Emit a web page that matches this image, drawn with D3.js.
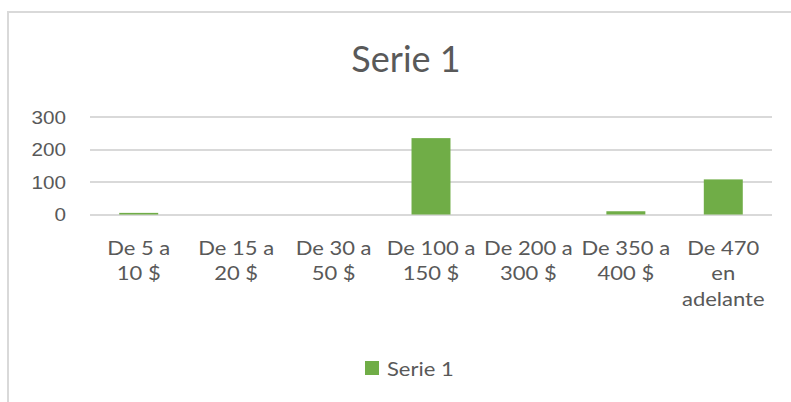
<!DOCTYPE html>
<html>
<head>
<meta charset="utf-8">
<script src="https://d3js.org/d3.v7.min.js"></script>
<style>
  body { margin: 0; background: #fff; }
  text { font-family: Lato, "Open Sans", sans-serif; fill: #595959; }
</style>
</head>
<body>
<script>
var categories = [
  ["De 5 a", "10 $"],
  ["De 15 a", "20 $"],
  ["De 30 a", "50 $"],
  ["De 100 a", "150 $"],
  ["De 200 a", "300 $"],
  ["De 350 a", "400 $"],
  ["De 470", "en", "adelante"]
];
var values = [5, 0, 0, 235, 0, 10, 108];
var yTicks = [0, 100, 200, 300];
var seriesName = "Serie 1";
var barColor = "#70ad47";

var W = 791, H = 402;
var margin = {top: 117, right: 19, bottom: 188, left: 90};
var stretch = 1.1; // the source picture is a bit wider than tall

var svg = d3.select("body").append("svg")
    .attr("width", W)
    .attr("height", H);

// chart area border (only left and top visible)
svg.append("path")
    .attr("d", "M8," + H + "V12H" + W)
    .style("fill", "none")
    .style("stroke", "#d9d9d9")
    .style("stroke-width", 2);

svg.append("text")
    .attr("x", 406)
    .attr("y", 72)
    .attr("text-anchor", "middle")
    .style("font-size", "36px")
    .text(seriesName);

var x = d3.scaleBand()
    .domain(d3.range(categories.length))
    .range([margin.left, W - margin.right])
    .paddingInner(0.6)
    .paddingOuter(0.3);

var y = d3.scaleLinear()
    .domain([0, 300])
    .range([H - margin.bottom + 0.5, margin.top]);

// gridlines
svg.append("g").selectAll("line")
    .data(yTicks)
    .enter().append("line")
    .attr("x1", margin.left)
    .attr("x2", W - margin.right)
    .attr("y1", d => Math.round(y(d)))
    .attr("y2", d => Math.round(y(d)))
    .style("stroke", "#d9d9d9")
    .style("stroke-width", 2);

// y labels
svg.append("g").selectAll("text")
    .data(yTicks)
    .enter().append("text")
    .attr("transform", d => "translate(66," + (y(d) + 6.5) + ") scale(1.15,1)")
    .attr("text-anchor", "end")
    .style("font-family", "'Liberation Sans', Arial, sans-serif")
    .style("font-size", "18px")
    .text(d => d);

// bars
svg.append("g").selectAll("rect")
    .data(values)
    .enter().append("rect")
    .attr("x", (d, i) => x(i))
    .attr("width", x.bandwidth())
    .attr("y", d => y(d))
    .attr("height", d => y(0) - y(d))
    .style("fill", barColor);

// category labels
var cat = svg.append("g").selectAll("text")
    .data(categories)
    .enter().append("text")
    .attr("transform", (d, i) => "translate(" + (x(i) + x.bandwidth() / 2) + ",0) scale(" + stretch + ",1)")
    .attr("text-anchor", "middle")
    .style("font-size", "20px");
cat.selectAll("tspan")
    .data(d => d)
    .enter().append("tspan")
    .attr("x", 0)
    .attr("y", (d, j) => 255 + j * 25.5)
    .text(d => d);

// legend
svg.append("rect")
    .attr("x", 365)
    .attr("y", 361)
    .attr("width", 14)
    .attr("height", 14)
    .style("fill", barColor);
svg.append("text")
    .attr("transform", "translate(387,376) scale(" + stretch + ",1)")
    .style("font-size", "20px")
    .text(seriesName);
</script>
</body>
</html>
